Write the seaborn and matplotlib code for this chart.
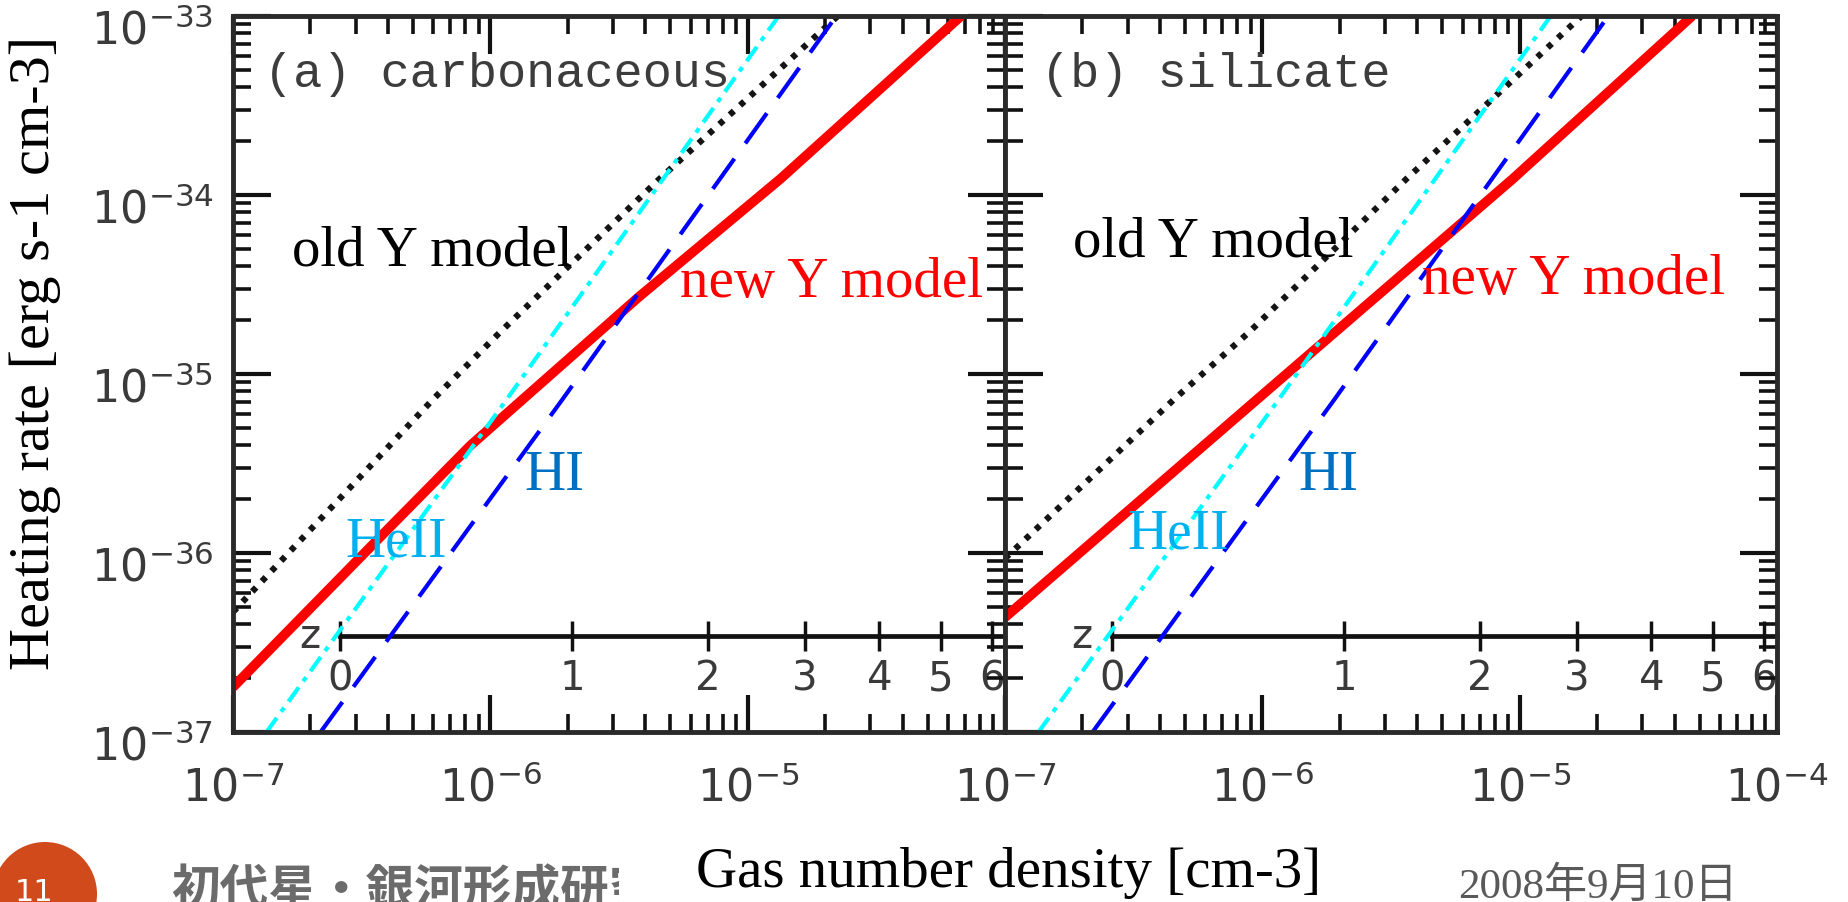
import numpy as np
import pandas as pd
import matplotlib
matplotlib.use("Agg")
import matplotlib.pyplot as plt
import seaborn as sns
from matplotlib import ticker
from matplotlib.patches import Ellipse
from matplotlib.transforms import Bbox, TransformedBbox, ScaledTranslation

# ---------------- data ----------------
# panel (a) carbonaceous grains
carb_new_density = [1.0e-7, 3.98e-7, 8.36e-7, 3.77e-6, 1.34e-5, 6.75e-5]
carb_new_heating = [1.78e-37, 1.35e-36, 3.98e-36, 2.69e-35, 1.23e-34, 1.0e-33]
carb_old_density = [1.0e-7, 6.00e-7, 1.09e-6, 4.46e-6, 2.24e-5]
carb_old_heating = [4.68e-37, 7.24e-36, 1.71e-35, 1.20e-34, 1.0e-33]
# panel (b) silicate grains
sil_new_density = [1.0e-7, 9.57e-7, 9.40e-6, 4.68e-5]
sil_new_heating = [4.37e-37, 7.24e-36, 1.23e-34, 1.0e-33]
sil_old_density = [1.0e-7, 4.55e-7, 8.91e-7, 3.63e-6, 1.74e-5]
sil_old_heating = [9.33e-37, 7.24e-36, 1.72e-35, 1.23e-34, 1.0e-33]
# photoheating of the gas (identical in both panels)
heii_density = [1.35e-7, 1.16e-6, 1.32e-5]
heii_heating = [1.0e-37, 7.24e-36, 1.0e-33]
hi_density = [2.19e-7, 1.91e-6, 2.21e-5]
hi_heating = [1.0e-37, 7.24e-36, 1.0e-33]

panel_titles = ["(a) carbonaceous", "(b) silicate"]
x_tick_values = [1e-7, 1e-6, 1e-5, 1e-4]
x_tick_labels = [r"$10^{-7}$", r"$10^{-6}$", r"$10^{-5}$", r"$10^{-4}$"]
y_tick_values = [1e-37, 1e-36, 1e-35, 1e-34, 1e-33]
y_tick_labels = [r"$10^{-37}$", r"$10^{-36}$", r"$10^{-35}$", r"$10^{-34}$", r"$10^{-33}$"]
z_tick_values = [0, 1, 2, 3, 4, 5, 6]
z_tick_labels = ["0", "1", "2", "3", "4", "5", "6"]
mean_density_z0 = 2.6e-7   # n(z) = n0 (1+z)^3 for the redshift axis

# ---------------- style ----------------
sns.set_theme(style="white")
plt.rcParams["font.family"] = ["DejaVu Sans"]
plt.rcParams["mathtext.fontset"] = "dejavusans"
plt.rcParams["axes.edgecolor"] = "#2a2a2a"

W, H = 1849, 903
fig = plt.figure(figsize=(W / 100, H / 100), dpi=100)
fig.patch.set_facecolor("white")


def rect(x0, x1, ytop, ybot):
    return [x0 / W, 1 - ybot / H, (x1 - x0) / W, (ybot - ytop) / H]


ax_a = fig.add_axes(rect(233, 1005, 17, 733))
ax_b = fig.add_axes(rect(1005, 1777, 17, 733))


# the inner axis is expressed in (1+z) so that it stays positive on a log scale
def density_to_onepz(n):
    n = np.asarray(n, dtype=float)
    return np.cbrt(np.clip(n, 1e-30, None) / mean_density_z0)


def onepz_to_density(a):
    a = np.asarray(a, dtype=float)
    return mean_density_z0 * np.clip(a, 1e-6, None) ** 3


SERIF = ["Liberation Serif", "DejaVu Serif"]
TICKGREY = "#3a3a3a"

panels = [
    (ax_a, carb_new_density, carb_new_heating, carb_old_density, carb_old_heating,
     panel_titles[0],
     dict(title=(0.040, 0.919), old=(0.0764, 0.6536), new=(0.579, 0.609),
          hi=(0.378, 0.339), heii=(0.146, 0.246))),
    (ax_b, sil_new_density, sil_new_heating, sil_old_density, sil_old_heating,
     panel_titles[1],
     dict(title=(0.046, 0.919), old=(0.088, 0.665), new=(0.540, 0.613),
          hi=(0.3795, 0.339), heii=(0.158, 0.258))),
]

for i, (ax, nd, nh, od, oh, title, pos) in enumerate(panels):
    ax.set_xscale("log")
    ax.set_yscale("log")
    ax.set_facecolor("white")

    sns.lineplot(x=nd, y=nh, ax=ax, sort=False, estimator=None, color="#ff0000",
                 linewidth=7, solid_capstyle="butt", solid_joinstyle="round", zorder=2.0)
    sns.lineplot(x=od, y=oh, ax=ax, sort=False, estimator=None, color="#141414",
                 linewidth=4.5, linestyle=(0, (0.9, 1.35)), zorder=2.1)
    sns.lineplot(x=heii_density, y=heii_heating, ax=ax, sort=False, estimator=None,
                 color="#00ffff", linewidth=3, linestyle=(0, (4.2, 1.8, 1.2, 1.8)), zorder=2.2)
    sns.lineplot(x=hi_density, y=hi_heating, ax=ax, sort=False, estimator=None,
                 color="#0000ff", linewidth=3, linestyle=(0, (8.9, 4.5)), zorder=2.3)

    ax.set_xlim(1e-7, 1e-4)
    ax.set_ylim(1e-37, 1e-33)
    ax.set_xlabel("")
    ax.set_ylabel("")

    # ticks
    if i == 0:
        ax.set_xticks(x_tick_values, labels=x_tick_labels[:-1] + [""])
        ax.set_yticks(y_tick_values, labels=y_tick_labels)
    else:
        ax.set_xticks(x_tick_values, labels=x_tick_labels)
        ax.set_yticks(y_tick_values)
        ax.tick_params(labelleft=False)
    ax.xaxis.set_minor_locator(ticker.LogLocator(base=10, subs=np.arange(2, 10) * 1.0, numticks=50))
    ax.yaxis.set_minor_locator(ticker.LogLocator(base=10, subs=np.arange(2, 10) * 1.0, numticks=50))
    ax.xaxis.set_minor_formatter(ticker.NullFormatter())
    ax.yaxis.set_minor_formatter(ticker.NullFormatter())
    ax.tick_params(which="major", direction="in", length=27, width=3, top=True, right=True,
                   bottom=True, left=True, color="#111111", labelcolor=TICKGREY, labelsize=32)
    ax.tick_params(which="minor", direction="in", length=13, width=2.6, top=True, right=True,
                   bottom=True, left=True, color="#111111")
    ax.tick_params(axis="x", which="major", pad=24)
    ax.tick_params(axis="y", which="major", pad=14)
    # the reference places the "10" of each y label centred on its tick
    for lab in ax.get_yticklabels():
        lab.set_transform(lab.get_transform() + ScaledTranslation(0, -0.10, fig.dpi_scale_trans))
    for sp in ax.spines.values():
        sp.set_linewidth(3.5)
        sp.set_color("#2a2a2a")
        sp.set_visible(True)

    # redshift axis drawn inside the panel
    sec = ax.secondary_xaxis(0.134, functions=(density_to_onepz, onepz_to_density))
    sec.set_ticks([1 + z for z in z_tick_values], labels=z_tick_labels)
    sec.xaxis.set_minor_locator(ticker.NullLocator())
    sec.tick_params(axis="x", which="major", direction="inout", length=22, width=2.5,
                    color="#111111", labelcolor=TICKGREY, labelsize=29, pad=5)
    sec.spines["bottom"].set_linewidth(3.4)
    sec.spines["bottom"].set_color("#111111")
    sec.spines["bottom"].set_bounds(1.0, float(density_to_onepz(ax.get_xlim()[1])))
    ax.text(0.0997, 0.134, "z", transform=ax.transAxes, ha="center", va="center",
            fontsize=29, color=TICKGREY)

    # annotations
    ax.text(*pos["title"], title, transform=ax.transAxes, ha="left", va="center",
            fontsize=35, family=["Liberation Mono", "DejaVu Sans Mono"], color="#3c3c3c")
    ax.text(*pos["old"], "old Y model", transform=ax.transAxes, ha="left", va="baseline",
            fontsize=41, family=SERIF, color="black")
    ax.text(*pos["new"], "new Y model", transform=ax.transAxes, ha="left", va="baseline",
            fontsize=41, family=SERIF, color="#ff0000")
    ax.text(*pos["hi"], "HI", transform=ax.transAxes, ha="left", va="baseline",
            fontsize=41, family=SERIF, color="#0070c0")
    ax.text(*pos["heii"], "HeII", transform=ax.transAxes, ha="left", va="baseline",
            fontsize=40, family=SERIF, color="#00b0f0")

# axis labels of the slide
fig.text(35 / W, 1 - 353 / H, "Heating rate [erg s-1 cm-3]", rotation=90, ha="center",
         va="center", fontsize=42, family=SERIF, color="black")
fig.text(696 / W, (H - 887) / H, "Gas number density [cm-3]", ha="left", va="baseline",
         fontsize=41, family=SERIF, color="black")

# slide footer
foot = fig.text(171 / W, -2 / H, "初代星・銀河形成研究会", ha="left", va="baseline",
                fontsize=35, fontweight="bold", color="#6b6b6b",
                family=["Noto Sans CJK JP", "DejaVu Sans"])
foot.set_clip_box(TransformedBbox(Bbox([[0, 0], [619 / W, 1]]), fig.transFigure))
foot.set_clip_on(True)
fig.text(1458 / W, 5 / H, "2008年9月10日", ha="left", va="baseline", fontsize=31,
         color="#595959", family=["Liberation Serif", "Noto Sans CJK JP"])
badge = Ellipse((45 / W, 1 - 895 / H), 104 / W, 104 / H, transform=fig.transFigure,
                facecolor="#d04a1c", edgecolor="none")
fig.patches.append(badge)
fig.text(34 / W, 1 - 893 / H, "11", ha="center", va="center", fontsize=22, color="white")

fig.savefig("out.png", dpi=100, facecolor="white")
